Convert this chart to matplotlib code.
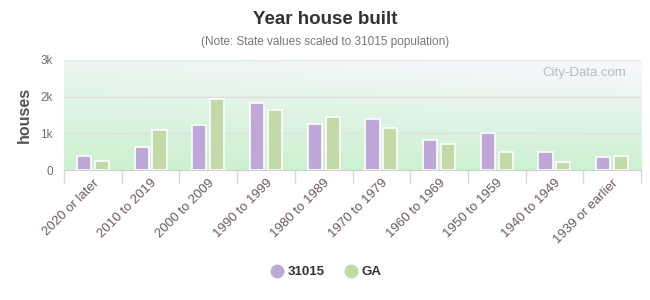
import numpy as np
import matplotlib.pyplot as plt
from matplotlib.lines import Line2D

plt.rcParams['font.family'] = ['Liberation Sans', 'DejaVu Sans']

categories = ['2020 or later', '2010 to 2019', '2000 to 2009', '1990 to 1999',
              '1980 to 1989', '1970 to 1979', '1960 to 1969', '1950 to 1959',
              '1940 to 1949', '1939 or earlier']
zip_vals = [375, 620, 1220, 1820, 1245, 1380, 810, 1000, 480, 345]
ga_vals = [245, 1080, 1940, 1650, 1435, 1135, 700, 480, 210, 373]

purple = '#bfa8d8'
green = '#c4d9a8'

fig = plt.figure(figsize=(6.5, 3), dpi=100)
ax = fig.add_axes([0.0985, 0.4333, 0.8877, 0.3667])

# gradient background: green at bottom, pale blue-white at top right
h, w = 100, 200
yy, xx = np.mgrid[0:1:h*1j, 0:1:w*1j]
t = np.clip(0.75 * yy + 0.35 * xx * yy, 0, 1)
bottom = np.array([204, 241, 208]) / 255
top = np.array([246, 247, 252]) / 255
img = bottom[None, None, :] * (1 - t[..., None]) + top[None, None, :] * t[..., None]
ax.imshow(img, extent=[-0.5, len(categories) - 0.5, 0, 3000], origin='lower',
          aspect='auto', zorder=0)

x = np.arange(len(categories))
bw = 0.245
ax.bar(x - 0.155, zip_vals, bw, color=purple, edgecolor='white', linewidth=1.2, zorder=3)
ax.bar(x + 0.155, ga_vals, bw, color=green, edgecolor='white', linewidth=1.2, zorder=3)

ax.set_xlim(-0.5, len(categories) - 0.5)
ax.set_ylim(0, 3000)
ax.set_yticks([0, 1000, 2000, 3000])
ax.set_yticklabels(['0', '1k', '2k', '3k'])
for yv in [1000, 2000]:
    ax.axhline(yv, color='#e2dede', linewidth=1, zorder=1)

ax.set_xticks(x)
ax.set_xticklabels(categories, rotation=45, ha='right', rotation_mode='anchor',
                   color='#6e5a5a', fontsize=9.5)
ax.set_xticks(np.arange(len(categories) + 1) - 0.5, minor=True)
ax.tick_params(axis='x', which='major', length=0, pad=5)
ax.tick_params(axis='x', which='minor', length=10, color='#d8d8d8', width=1)
ax.tick_params(axis='y', length=0, colors='#707070', labelsize=8.5, pad=8)

for s in ['top', 'right', 'left']:
    ax.spines[s].set_visible(False)
ax.spines['bottom'].set_color('#d0d0d0')
ax.axhline(3000, color='#e8e8e8', linewidth=1, zorder=1)

ax.set_ylabel('houses', fontsize=11.5, fontweight='bold', color='#555555', labelpad=6)

ax.text(0.975, 0.88, 'City-Data.com', transform=ax.transAxes, ha='right', va='center',
        fontsize=9.5, color='#b4bcc0', zorder=2)

fig.text(0.5, 0.935, 'Year house built', ha='center', va='center',
         fontsize=13.5, fontweight='bold', color='#333333')
fig.text(0.5, 0.86, '(Note: State values scaled to 31015 population)', ha='center',
         va='center', fontsize=8.5, color='#777777')

handles = [Line2D([], [], marker='o', linestyle='', markersize=9, color=purple, label='31015'),
           Line2D([], [], marker='o', linestyle='', markersize=9, color=green, label='GA')]
leg = fig.legend(handles=handles, loc='center', bbox_to_anchor=(0.5, 0.093), ncol=2,
                 frameon=False, handletextpad=0.2, columnspacing=1.4, handlelength=1.2,
                 prop={'weight': 'bold', 'size': 9.5})
for t_ in leg.get_texts():
    t_.set_color('#333333')

fig.savefig('out.png', dpi=100)
